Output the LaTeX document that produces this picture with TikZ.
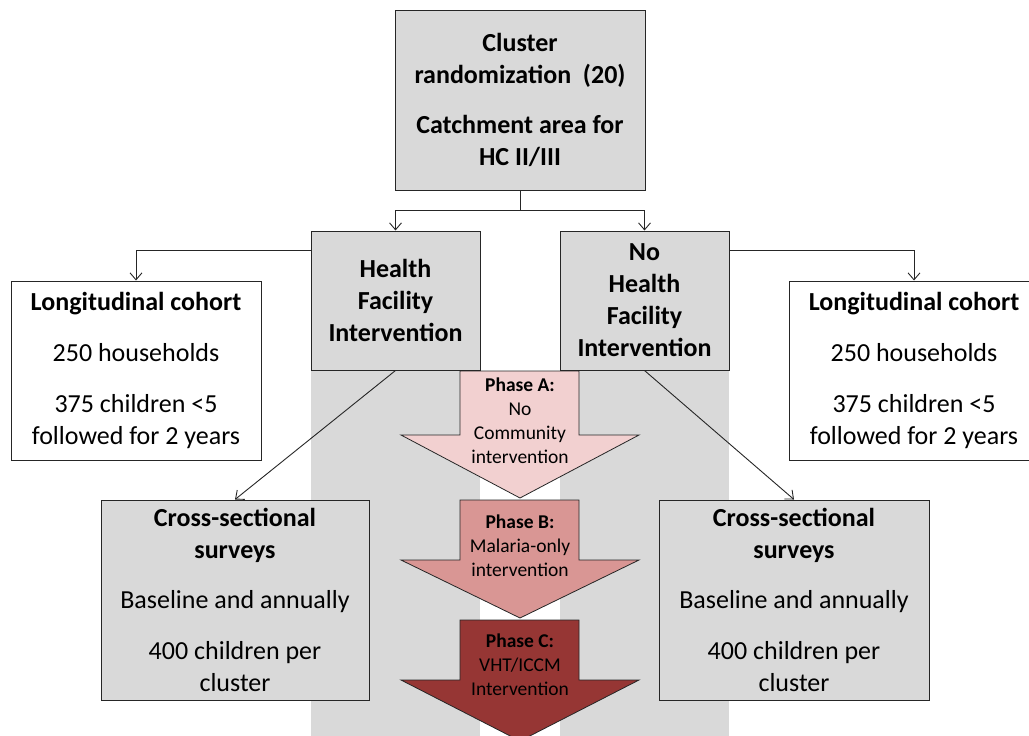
\documentclass[tikz,border=0pt]{standalone}
\usepackage{fontspec}
\setmainfont{Carlito}
\usetikzlibrary{arrows.meta}
\definecolor{boxgray}{RGB}{217,217,217}
\definecolor{phaseA}{RGB}{242,208,208}
\definecolor{phaseB}{RGB}{217,150,148}
\definecolor{phaseC}{RGB}{150,54,52}
\begin{document}
\begin{tikzpicture}[x=1pt,y=-1pt,
  box/.style={draw=black!85, line width=1pt, inner sep=0pt, align=center,
    font=\fontsize{26}{32}\selectfont},
  graybox/.style={box, fill=boxgray},
  whitebox/.style={box, fill=white},
  conn/.style={draw=black!85, line width=0.9pt, -{Straight Barb[length=7pt,width=12pt]}},
  phasetext/.style={align=center, font=\fontsize{19.5}{24}\selectfont, inner sep=0pt},
  arrowshape/.style={draw=black!85, line width=0.8pt}]
\useasboundingbox (0,0) rectangle (1029,736);
\clip (0,0) rectangle (1029,736);
% gray columns under the two arms
\fill[boxgray] (311,370) rectangle (480,740);
\fill[boxgray] (560,370) rectangle (729,740);
% boxes
\node[graybox, minimum width=250pt, minimum height=180pt, font=\fontsize{26}{32}\selectfont\bfseries] (top) at (520,100)
  {Cluster\\randomization\ \ (20)\\[18pt]Catchment area for\\HC II/III};
\node[graybox, minimum width=169pt, minimum height=139pt, font=\fontsize{26}{32}\selectfont\bfseries] (hf) at (395.5,300.5)
  {Health\\Facility\\Intervention};
\node[graybox, minimum width=169pt, minimum height=139pt, font=\fontsize{26}{32}\selectfont\bfseries] (nhf) at (644.5,300.5)
  {No\\Health\\Facility\\Intervention};
\node[whitebox, minimum width=250pt, minimum height=179pt] (lc1) at (136,370.5)
  {\textbf{Longitudinal cohort}\\[19pt]250 households\\[19pt]375 children <5\\followed for 2 years};
\node[whitebox, minimum width=250pt, minimum height=179pt] (lc2) at (914,370.5)
  {\textbf{Longitudinal cohort}\\[19pt]250 households\\[19pt]375 children <5\\followed for 2 years};
\node[graybox, minimum width=268pt, minimum height=200pt] (cs1) at (235,600)
  {\textbf{Cross-sectional}\\\textbf{surveys}\\[18pt]Baseline and annually\\[19pt]400 children per\\cluster};
\node[graybox, minimum width=270pt, minimum height=200pt] (cs2) at (794,600)
  {\textbf{Cross-sectional}\\\textbf{surveys}\\[18pt]Baseline and annually\\[19pt]400 children per\\cluster};
% phase arrows
\filldraw[arrowshape, fill=phaseA] (460,371) -- (579,371) -- (579,435) -- (639,435) -- (520,498) -- (401,435) -- (460,435) -- cycle;
\filldraw[arrowshape, fill=phaseB] (460,500) -- (579,500) -- (579,560) -- (639,560) -- (520,618) -- (401,560) -- (460,560) -- cycle;
\filldraw[arrowshape, fill=phaseC] (460,620) -- (579,620) -- (579,680) -- (639,680) -- (520,741) -- (401,680) -- (460,680) -- cycle;
\node[phasetext] (pa) at (520,421) {\textbf{Phase A:}\\No\\Community\\intervention};
\node[phasetext] (pb) at (520,545.5) {\textbf{Phase B:}\\Malaria-only\\intervention};
\node[phasetext] (pc) at (520,665) {\textbf{Phase C:}\\VHT/ICCM\\Intervention};
% connectors
\draw[conn] (top.south) -- ++(0,20) -| (hf.north);
\draw[conn] (top.south) -- ++(0,20) -| (nhf.north);
\draw[conn] ([yshift=-20pt]hf.north west) -| (lc1.north);
\draw[conn] ([yshift=-20pt]nhf.north east) -| (lc2.north);
\draw[conn] (hf.south) -- (cs1.north);
\draw[conn] (nhf.south) -- (cs2.north);
\end{tikzpicture}
\end{document}
